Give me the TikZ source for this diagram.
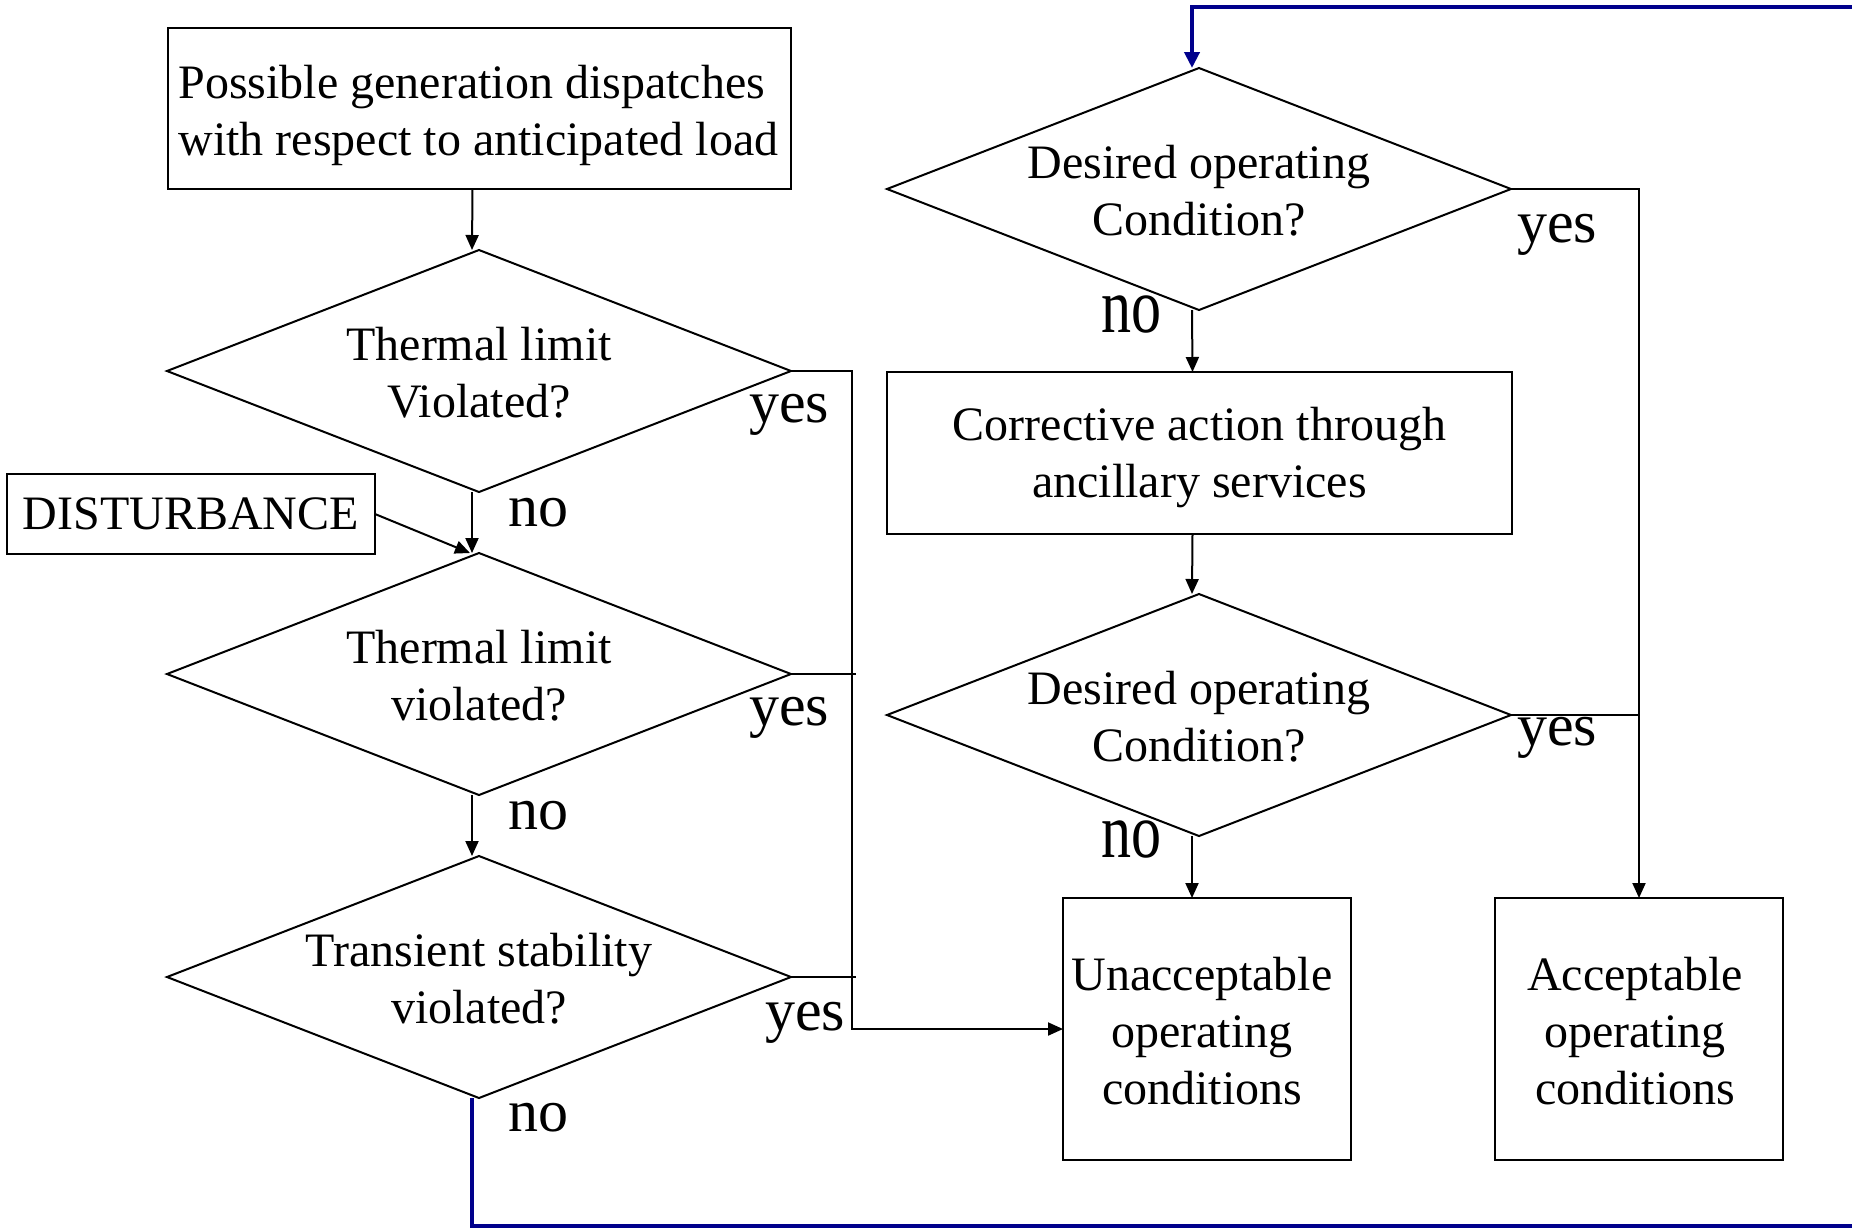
\documentclass[tikz,border=0pt]{standalone}
\usepackage{fontspec}
\usepackage{graphicx}
\setmainfont{Liberation Serif}
\usetikzlibrary{shapes.geometric,arrows.meta}
\definecolor{loopblue}{RGB}{0,0,140}
\newcommand{\txtfont}{\fontsize{24pt}{28.5pt}\selectfont}
\newcommand{\labfont}{\fontsize{30pt}{34pt}\selectfont}
\begin{document}
\begin{tikzpicture}[x=0.5pt,y=-0.5pt,
  every node/.style={inner sep=0pt,outer sep=0pt},
  box/.style={draw,line width=1pt},
  dia/.style={draw,shape=diamond,line width=1pt,minimum width=312pt,minimum height=121pt},
  txt/.style={align=center,font=\txtfont},
  lab/.style={anchor=base west,font=\labfont},
  conn/.style={line width=1pt},
  arr/.style={conn,-{Triangle[length=7.5pt,width=6.5pt]}},
  loopline/.style={line width=2pt,draw=loopblue},
]
\useasboundingbox (0,0) rectangle (1852,1228);

% boxes
\node[box,minimum width=311.5pt,minimum height=80.5pt] (gen) at (479.5,108.5) {};
\node[txt,align=left] (gent) at ([xshift=-0.5pt,yshift=-3.5pt]gen.center)
  {Possible generation dispatches\\with respect to anticipated load};
\node[box,minimum width=184pt,minimum height=40pt] (dist) at (191,514) {};
\node[txt] (distt) at (dist) {DISTURBANCE};
\node[box,minimum width=312.5pt,minimum height=81pt] (corr) at (1199.5,453) {};
\node[txt] (corrt) at ([yshift=-2.5pt]corr.center)
  {Corrective action through\\ancillary services};
\node[box,minimum width=144pt,minimum height=131pt] (unacc) at (1207,1029) {};
\node[txt] (unacct) at ([xshift=-2.5pt,yshift=-1pt]unacc.center)
  {Unacceptable\\operating\\conditions};
\node[box,minimum width=144pt,minimum height=131pt] (acc) at (1639,1029) {};
\node[txt] (acct) at ([xshift=-2pt,yshift=-1pt]acc.center)
  {Acceptable\\operating\\conditions};

% diamonds
\node[dia] (d1) at (479,371) {};
\node[txt] (d1t) at ([yshift=-1pt]d1.center) {Thermal limit\\Violated?};
\node[dia] (d2) at (479,674) {};
\node[txt] (d2t) at ([yshift=-1pt]d2.center) {Thermal limit\\violated?};
\node[dia] (d3) at (479,977) {};
\node[txt] (d3t) at ([yshift=-1pt]d3.center) {Transient stability\\violated?};
\node[dia] (d4) at (1199,189) {};
\node[txt] (d4t) at ([yshift=-1pt]d4.center) {Desired operating\\Condition?};
\node[dia] (d5) at (1199,715) {};
\node[txt] (d5t) at ([yshift=-1pt]d5.center) {Desired operating\\Condition?};

% connectors, left column
\draw[arr] ([xshift=-3.5pt]gen.south) -- ([xshift=-3.5pt]d1.north);
\draw[arr] ([xshift=-3.5pt]d1.south) -- ([xshift=-3.5pt]d2.north);
\draw[arr] ([xshift=-3.5pt]d2.south) -- ([xshift=-3.5pt]d3.north);
\draw[arr] (dist.east) -- ([xshift=-4.5pt]d2.north);
\draw[arr] (d1.east) -- ++(61,0) |- (unacc.west);
\draw[conn] (d2.east) -- ++(65,0);
\draw[conn] (d3.east) -- ++(65,0);

% connectors, right column
\draw[arr] ([xshift=-3.5pt]d4.south) -- ([xshift=-3.5pt]corr.north);
\draw[arr] ([xshift=-3.5pt]corr.south) -- ([xshift=-3.5pt]d5.north);
\draw[arr] ([xshift=-3.5pt]d5.south) -- ([xshift=-7.5pt]unacc.north);
\draw[arr] (d4.east) -| (acc.north);
\draw[conn] (d5.east) -- (d5.east -| acc.north);

% blue loop
\coordinate (exitB) at (1852,1226);
\coordinate (exitT) at (1852,7);
\draw[loopline] ([xshift=-3.5pt]d3.south) |- (exitB);
\draw[loopline,-{Triangle[length=8pt,width=7.5pt]}] (exitT) -| ([xshift=-3.5pt]d4.north);

% labels
\node[lab] (y1) at (749,422) {yes};
\node[lab] (y2) at (749,725) {yes};
\node[lab] (y3) at (765,1030) {yes};
\node[lab] (y4) at (1517,242) {yes};
\node[lab] (y5) at (1517,745) {yes};
\node[lab] (n1) at (508,526) {no};
\node[lab] (n2) at (508,829) {no};
\node[lab] (n3) at (508,1131) {no};
\node[lab] (n4) at (1101,332) {\scalebox{1}[1.3]{no}};
\node[lab] (n5) at (1101,857) {\scalebox{1}[1.3]{no}};
\end{tikzpicture}
\end{document}
